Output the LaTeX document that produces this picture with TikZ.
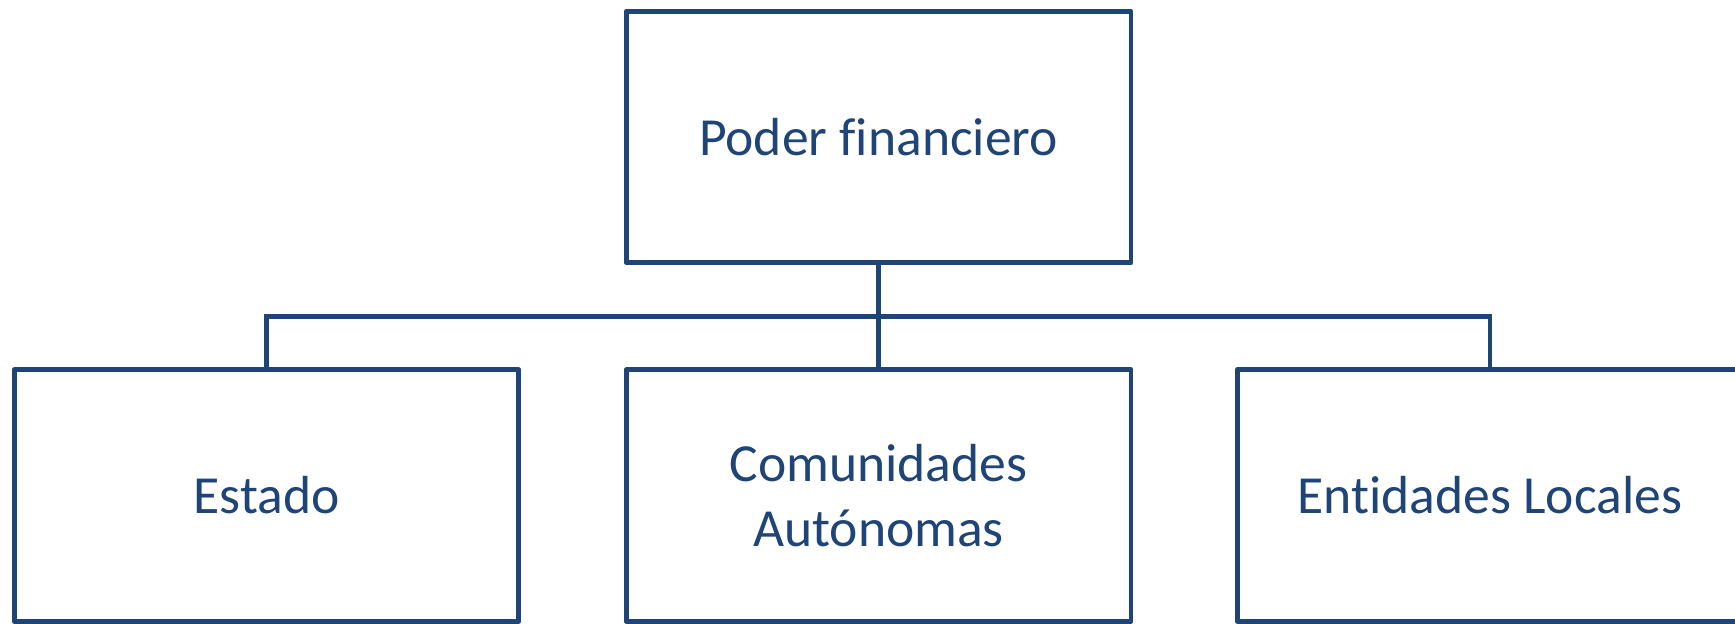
\documentclass[tikz,border=0pt]{standalone}
\usepackage{fontspec}
\setmainfont{Carlito}[Ligatures=NoCommon]
\usetikzlibrary{positioning}
\definecolor{azul}{RGB}{31,68,119}

\begin{document}
\begin{tikzpicture}[x=0.02cm, y=-0.02cm,
    caja/.style={rectangle, draw=azul, line width=2.8pt, line join=round, text=azul, align=center,
        font=\fontsize{30.5}{37}\selectfont, minimum width=10.1cm, minimum height=5.03cm},
    linea/.style={draw=azul, line width=2.8pt}
]
    \useasboundingbox (0,0) rectangle (1735,623);

    \node[caja] (poder) at (878.5,137) {Poder financiero};

    \node[caja] (estado) at (266.5,495.5) {Estado};
    \node[caja] (comunidades) at (878.5,495.5) {Comunidades\\Autónomas};
    \node[caja] (locales) at (1490,495.5) {Entidades Locales};

    % conectores
    \coordinate (bus) at (878.5,316.5);
    \draw[linea] (poder.south) -- (bus);
    \draw[linea] (estado.north) |- (bus) -| (locales.north);
    \draw[linea] (bus) -- (comunidades.north);
\end{tikzpicture}
\end{document}
